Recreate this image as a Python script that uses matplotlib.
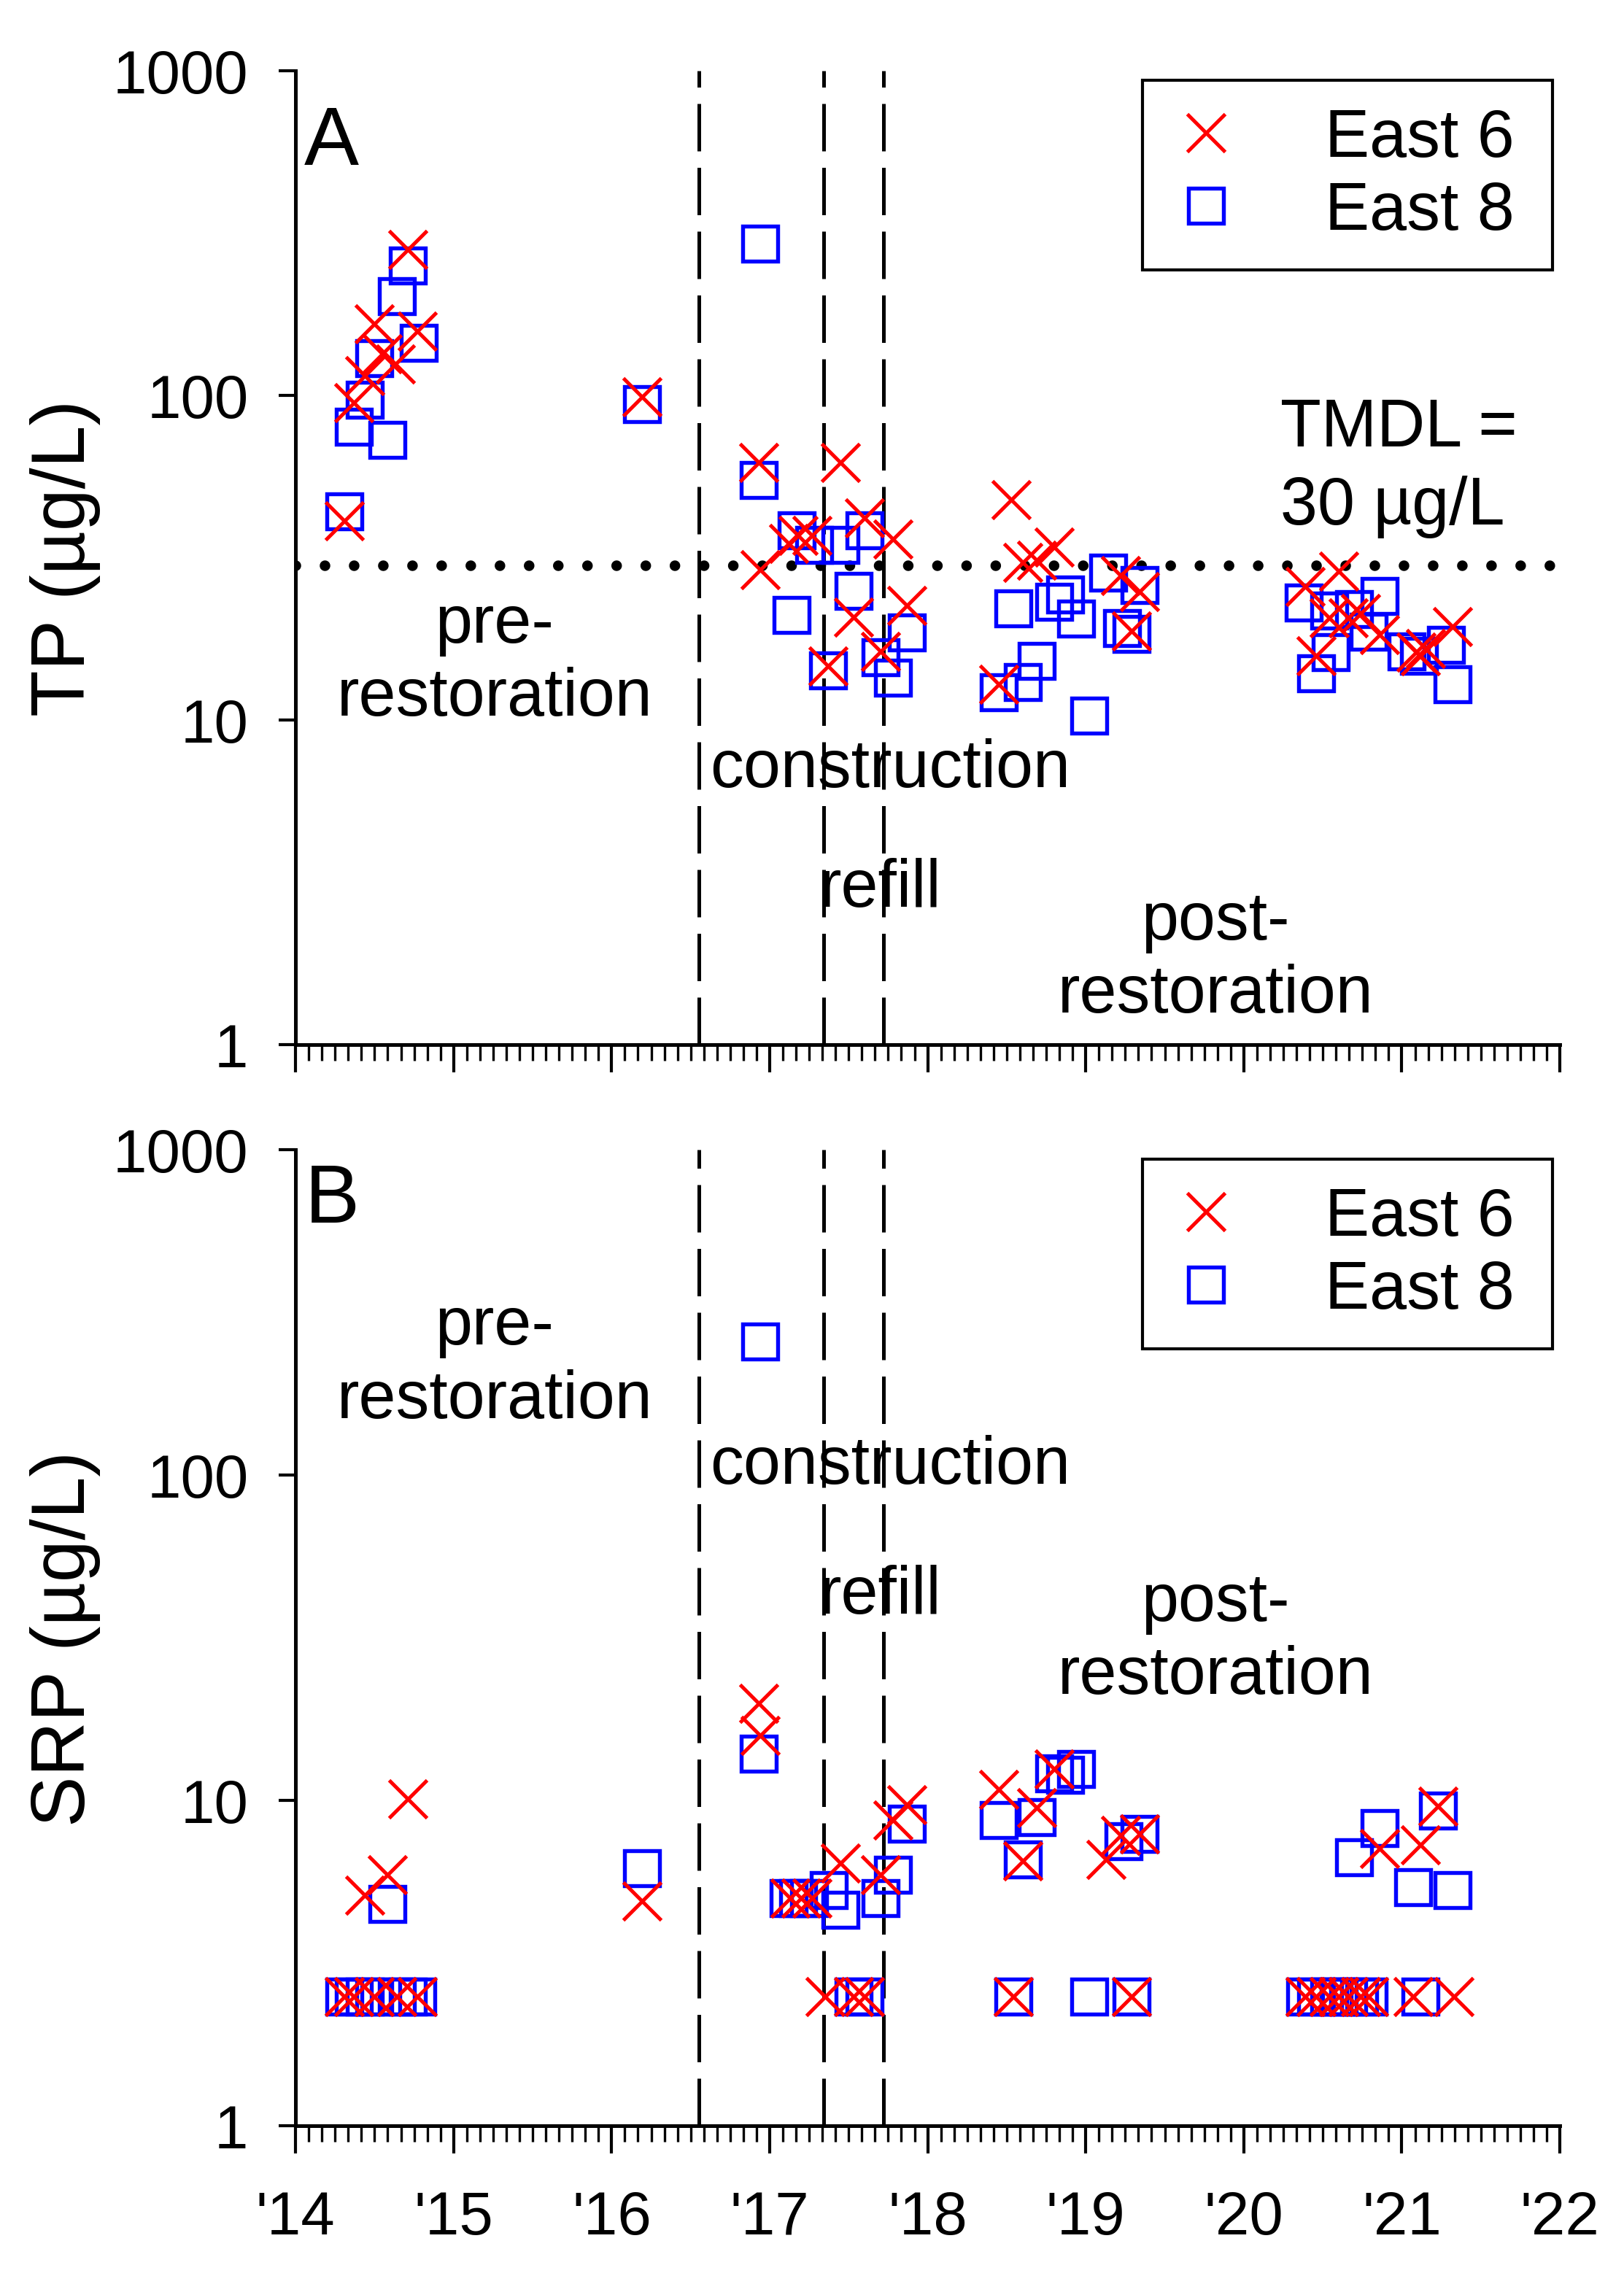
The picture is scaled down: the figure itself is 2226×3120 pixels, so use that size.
import matplotlib
matplotlib.use('Agg')
import matplotlib.pyplot as plt
import numpy as np

plt.rcParams['font.family'] = ['Liberation Sans', 'DejaVu Sans']

# ---- data (decimal year, ug/L) ----
tp_e6_dates = [2014.31, 2014.37, 2014.44, 2014.50, 2014.55, 2014.63, 2014.71, 2014.77,
               2016.19,
               2016.93, 2016.94, 2017.12, 2017.18, 2017.27, 2017.37, 2017.45, 2017.53,
               2017.60, 2017.70, 2017.78, 2017.87,
               2018.45, 2018.53, 2018.60, 2018.69, 2018.80, 2019.22, 2019.29, 2019.34,
               2020.39, 2020.46, 2020.54, 2020.60, 2020.66, 2020.74, 2020.86,
               2021.09, 2021.12, 2021.15, 2021.32]
tp_e6 = [41, 95, 115, 166, 134, 125, 281, 158,
         99,
         62, 29, 35, 37, 37, 14.7, 62, 20.7,
         42, 16.3, 36, 22.5,
         12.9, 47.6, 30.5, 31, 34, 27.9, 18.8, 24.8,
         25.8, 15.8, 20.6, 28.8, 20.6, 21.3, 18.3,
         16.2, 15.8, 16.6, 19.4]

tp_e8_dates = [2014.31, 2014.37, 2014.44, 2014.50, 2014.58, 2014.64, 2014.71, 2014.78,
               2016.19,
               2016.93, 2016.94, 2017.14, 2017.17, 2017.28, 2017.37, 2017.45, 2017.53,
               2017.60, 2017.70, 2017.78, 2017.87,
               2018.45, 2018.54, 2018.60, 2018.69, 2018.80, 2018.87, 2018.94, 2019.02,
               2019.14, 2019.23, 2019.29, 2019.34,
               2020.38, 2020.46, 2020.54, 2020.55, 2020.70, 2020.79, 2020.86,
               2021.03, 2021.11, 2021.28, 2021.32]
tp_e8 = [44, 80, 97, 130, 73, 202, 251, 145,
         94,
         55, 293, 21.1, 38.3, 34.7, 14.2, 34.7, 25,
         38.3, 15.6, 13.5, 18.6,
         12.2, 22.1, 13.1, 15.2, 23.1, 24.3, 20.5, 10.3,
         28.5, 19.2, 18.4, 26,
         23, 13.9, 21.7, 16.2, 21.9, 18.7, 24.1,
         16.3, 15.8, 17, 12.9]

srp_e6_dates = [2014.31, 2014.37, 2014.44, 2014.50, 2014.58, 2014.64, 2014.71, 2014.77,
                2016.19,
                2016.93, 2016.94, 2017.13, 2017.20, 2017.27, 2017.35, 2017.45, 2017.53,
                2017.60, 2017.70, 2017.78, 2017.87,
                2018.45, 2018.54, 2018.60, 2018.69, 2018.80, 2019.13, 2019.22, 2019.29,
                2019.34,
                2020.39, 2020.46, 2020.54, 2020.60, 2020.66, 2020.74, 2020.79, 2020.86,
                2021.07, 2021.12, 2021.23, 2021.33]
srp_e6 = [2.5, 2.5, 5.1, 2.5, 5.9, 2.5, 10.1, 2.5,
          4.9,
          19.9, 15.8, 5.0, 5.0, 5.0, 2.5, 6.4, 2.5,
          2.5, 5.9, 8.7, 9.7,
          10.8, 2.5, 6.5, 9.5, 12.5, 6.6, 7.8, 2.5,
          7.9,
          2.5, 2.5, 2.5, 2.5, 2.5, 2.5, 2.5, 7.1,
          2.5, 7.3, 9.6, 2.5]

srp_e8_dates = [2014.31, 2014.37, 2014.44, 2014.50, 2014.58, 2014.64, 2014.71, 2014.77,
                2016.19,
                2016.93, 2016.94, 2017.12, 2017.18, 2017.25, 2017.375, 2017.45, 2017.53,
                2017.60, 2017.70, 2017.78, 2017.87,
                2018.45, 2018.54, 2018.60, 2018.69, 2018.80, 2018.87, 2018.94, 2019.02,
                2019.24, 2019.29, 2019.34,
                2020.39, 2020.46, 2020.54, 2020.60, 2020.66, 2020.70, 2020.73, 2020.79,
                2020.86, 2021.07, 2021.12, 2021.23, 2021.32]
srp_e8 = [2.5, 2.5, 2.5, 2.5, 4.8, 2.5, 2.5, 2.5,
          6.2,
          13.9, 257, 5.0, 5.0, 5.0, 5.3, 4.6, 2.5,
          2.5, 5.0, 5.9, 8.5,
          8.7, 2.5, 6.6, 8.9, 12.1, 12.0, 12.5, 2.5,
          7.5, 2.5, 7.9,
          2.5, 2.5, 2.5, 2.5, 2.5, 6.7, 2.5, 2.5,
          8.2, 5.4, 2.5, 9.3, 5.3]

phase_breaks = [2016.55, 2017.34, 2017.72]
tmdl = 30
year_ticks = list(range(2014, 2023))
year_labels = ["'%02d" % (y - 2000) for y in year_ticks]


def draw_panel(ax, e6_dates, e6_vals, e8_dates, e8_vals, letter, letter_y, show_xlabels):
    '''
    one log-scale panel: squares for East 8, crosses for East 6
    '''
    h8, = ax.plot(e8_dates, e8_vals, 's', ls='none', ms=11.5, mfc='none',
                  mec='#0000ff', mew=1.3, zorder=3)
    h6, = ax.plot(e6_dates, e6_vals, 'x', ls='none', ms=12.5,
                  mec='#ff0000', mew=1.2, zorder=4)
    for xb in phase_breaks:
        ax.axvline(xb, color='black', lw=1.2, ls=(0, (13, 4.5)), zorder=2)

    ax.set_yscale('log')
    ax.set_ylim(1, 1000)
    ax.set_xlim(2014, 2022)
    ax.set_yticks([1, 10, 100, 1000])
    ax.set_yticklabels(['1', '10', '100', '1000'])
    ax.yaxis.set_minor_locator(matplotlib.ticker.NullLocator())
    ax.set_xticks(year_ticks)
    ax.set_xticks(np.arange(2014, 2022.001, 1 / 12.), minor=True)
    if show_xlabels:
        ax.set_xticklabels(year_labels)
    else:
        ax.set_xticklabels([])
    ax.tick_params(axis='x', which='major', direction='out', length=9, width=1.0,
                   labelsize=20, pad=12)
    ax.tick_params(axis='x', which='minor', direction='out', length=5.3, width=0.8)
    ax.tick_params(axis='y', which='major', direction='out', length=5.5, width=1.0,
                   labelsize=20, pad=10)
    for s in ['top', 'right']:
        ax.spines[s].set_visible(False)
    for s in ['left', 'bottom']:
        ax.spines[s].set_linewidth(1.2)

    ax.text(0.007, letter_y, letter, transform=ax.transAxes, fontsize=27,
            ha='left', va='center')

    leg = ax.legend([h6, h8], ['East 6', 'East 8'], loc='upper left',
                    bbox_to_anchor=(0.670, 0.0, 0.324, 0.99), mode='expand',
                    fontsize=22, frameon=True,
                    fancybox=False, edgecolor='black', framealpha=1,
                    borderpad=0.4, handlelength=1.1, handletextpad=1.22,
                    labelspacing=0.15, borderaxespad=0)
    leg.get_frame().set_linewidth(1.0)
    return ax


fig = plt.figure(figsize=(7.42, 10.403), dpi=300)
ax1 = fig.add_axes([0.182, 0.5409, 0.7785, 0.4277])
ax2 = fig.add_axes([0.182, 0.0660, 0.7785, 0.4287])

draw_panel(ax1, tp_e6_dates, tp_e6, tp_e8_dates, tp_e8, 'A', 0.926, False)
ax1.axhline(tmdl, color='black', lw=3.5, ls=(0, (0.001, 2.74)),
            dash_capstyle='round', zorder=2)
ax1.set_ylabel('TP (µg/L)', fontsize=25, labelpad=4)
ax1.text(2015.26, 15.2, 'pre-\nrestoration', fontsize=22, ha='center', va='center',
         linespacing=1.22)
ax1.text(2016.62, 7.05, 'construction', fontsize=22, ha='left', va='center')
ax1.text(2017.70, 3.03, 'refill', fontsize=22, ha='center', va='center')
ax1.text(2019.82, 1.85, 'post-\nrestoration', fontsize=22, ha='center', va='center',
         linespacing=1.22)
ax1.text(2020.23, 60, 'TMDL =\n30 µg/L', fontsize=22, ha='left', va='center',
         linespacing=1.32)

draw_panel(ax2, srp_e6_dates, srp_e6, srp_e8_dates, srp_e8, 'B', 0.948, True)
ax2.set_ylabel('SRP (µg/L)', fontsize=25, labelpad=4)
ax2.text(2015.26, 221, 'pre-\nrestoration', fontsize=22, ha='center', va='center',
         linespacing=1.22)
ax2.text(2016.62, 107, 'construction', fontsize=22, ha='left', va='center')
ax2.text(2017.70, 42.6, 'refill', fontsize=22, ha='center', va='center')
ax2.text(2019.82, 31.3, 'post-\nrestoration', fontsize=22, ha='center', va='center',
         linespacing=1.22)

fig.savefig('out.png', dpi=300)
